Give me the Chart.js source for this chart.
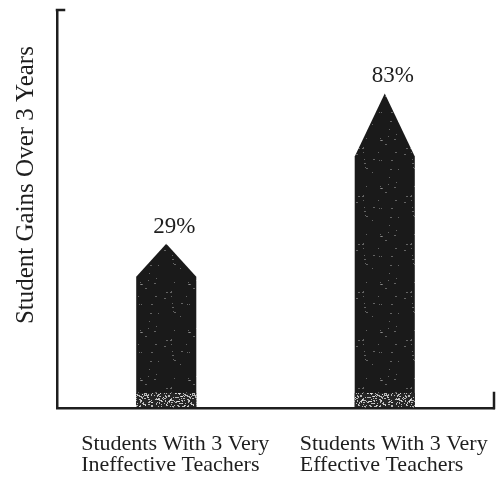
<!DOCTYPE html>
<html>
<head>
<meta charset="utf-8">
<script src="https://cdn.jsdelivr.net/npm/chart.js@4/dist/chart.umd.min.js"></script>
<style>
  html, body { margin: 0; padding: 0; background: #fff; }
  #wrap { width: 500px; height: 477px; }
</style>
</head>
<body>
<div id="wrap"><canvas id="c" width="500" height="477"></canvas></div>
<script>
// Categories (two-line labels), values and axis text
const categories = [
  ['Students With 3 Very', 'Ineffective Teachers'],
  ['Students With 3 Very', 'Effective Teachers']
];
const gains = [29, 83];
const valueAxisTitle = 'Student Gains Over 3 Years';
const valueMin = -30;
const valueMax = 113;

const INK = '#1e1e1e';
const SERIF = '"Liberation Serif", "Times New Roman", serif';

const canvas = document.getElementById('c');
const ctx = canvas.getContext('2d');

// Grainy crayon fill built from a small tile with deterministic specks
function speckle(size, base, speck, density, seed) {
  const tile = document.createElement('canvas');
  tile.width = tile.height = size;
  const g = tile.getContext('2d');
  g.fillStyle = base;
  g.fillRect(0, 0, size, size);
  let s = seed;
  const next = () => { s = (s * 16807) % 2147483647; return s / 2147483647; };
  g.fillStyle = speck;
  const n = Math.round(size * size * density);
  for (let i = 0; i < n; i++) {
    const px = Math.floor(next() * size);
    const py = Math.floor(next() * size);
    g.fillRect(px, py, next() < 0.35 ? 2 : 1, 1);
  }
  return ctx.createPattern(tile, 'repeat');
}
const bodyFill = speckle(48, '#1a1a1a', 'rgba(190,190,190,0.45)', 0.012, 12345);
const bandFill = speckle(48, '#262626', 'rgba(235,235,235,0.75)', 0.22, 777);

// Bar controller that draws each bar as a pencil: a body topped by a sharpened tip
class PencilController extends Chart.BarController {
  draw() {
    const c = this.chart.ctx;
    c.save();
    for (const bar of this._cachedMeta.data) {
      const { x, y, base, width } = bar.getProps(['x', 'y', 'base', 'width'], true);
      const half = width / 2;
      const tip = (base - y) * 0.2;
      const shoulder = y + tip;
      c.beginPath();
      c.moveTo(x - half, base);
      c.lineTo(x - half, shoulder);
      c.lineTo(x, y);
      c.lineTo(x + half, shoulder);
      c.lineTo(x + half, base);
      c.closePath();
      c.fillStyle = bodyFill;
      c.fill();
      // worn band near the bottom of the pencil
      c.fillStyle = bandFill;
      c.fillRect(x - half, base - 15, width, 14);
    }
    c.restore();
  }
}
PencilController.id = 'pencil';
PencilController.defaults = Chart.BarController.defaults;
PencilController.overrides = Chart.BarController.overrides;
Chart.register(PencilController);

// Percent labels above each tip
const valueLabels = {
  id: 'valueLabels',
  afterDatasetsDraw(chart) {
    const c = chart.ctx;
    const meta = chart.getDatasetMeta(0);
    c.save();
    c.font = '23px ' + SERIF;
    c.fillStyle = INK;
    c.textAlign = 'center';
    c.textBaseline = 'alphabetic';
    meta.data.forEach((bar, i) => {
      const { x, y } = bar.getProps(['x', 'y'], true);
      c.fillText(gains[i] + '%', x + 8, y - 11);
    });
    c.restore();
  }
};

// Axis title, category captions and the small serifs at the axis ends
const axisDecor = {
  id: 'axisDecor',
  afterDraw(chart) {
    const c = chart.ctx;
    const a = chart.chartArea;
    const xs = chart.scales.x;
    c.save();
    c.strokeStyle = INK;
    c.lineWidth = 2.5;
    c.lineCap = 'square';
    c.beginPath();
    c.moveTo(a.left, a.top);
    c.lineTo(a.left + 7, a.top);
    c.moveTo(a.right, a.bottom);
    c.lineTo(a.right, a.bottom - 15);
    c.stroke();

    // value-axis title, rotated, sitting in the upper part of the axis
    c.save();
    c.translate(a.left - 31, a.top + (a.bottom - a.top) * 0.44);
    c.rotate(-Math.PI / 2);
    c.font = '25px ' + SERIF;
    c.fillStyle = INK;
    c.textAlign = 'center';
    c.textBaseline = 'middle';
    c.fillText(valueAxisTitle, 0, 0);
    c.restore();

    c.font = '22px ' + SERIF;
    c.fillStyle = INK;
    c.textAlign = 'left';
    c.textBaseline = 'alphabetic';
    categories.forEach((lines, i) => {
      const left = xs.getPixelForValue(i) - 85;
      lines.forEach((t, j) => c.fillText(t, left, a.bottom + 42 + j * 21));
    });
    c.restore();
  }
};

new Chart(canvas, {
  type: 'pencil',
  data: {
    labels: categories,
    datasets: [{
      data: gains,
      base: valueMin,
      backgroundColor: INK,
      barPercentage: 0.55,
      categoryPercentage: 0.5
    }]
  },
  options: {
    responsive: false,
    animation: false,
    layout: { padding: { left: 57, right: 6, top: 10, bottom: 69 } },
    plugins: {
      legend: { display: false },
      tooltip: { enabled: false }
    },
    scales: {
      x: {
        grid: { display: false, drawTicks: false },
        ticks: { display: false },
        border: { display: true, color: INK, width: 2.5 }
      },
      y: {
        min: valueMin,
        max: valueMax,
        grid: { display: false, drawTicks: false },
        ticks: { display: false },
        border: { display: true, color: INK, width: 2.5 }
      }
    }
  },
  plugins: [valueLabels, axisDecor]
});
</script>
</body>
</html>
